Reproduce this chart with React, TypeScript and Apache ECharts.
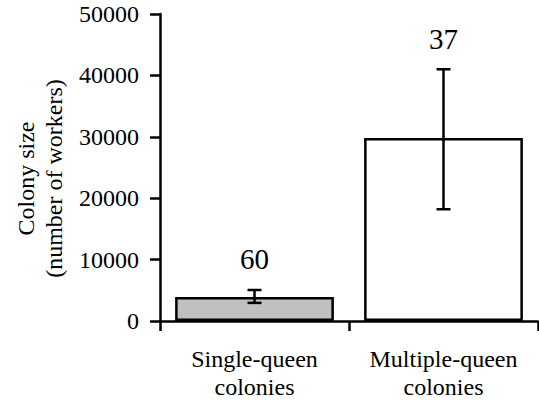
import React, { useEffect, useRef } from "react";
import * as echarts from "echarts";

const categories = ["Single-queen\ncolonies", "Multiple-queen\ncolonies"];
const means = [3900, 29800];
const errLow = [2950, 18200];
const errHigh = [5050, 41000];
const sampleSizes = ["60", "37"];
const barFills = ["#c0c0c0", "#ffffff"];
const yMin = 0;
const yMax = 50000;
const yInterval = 10000;

const FONT = "Liberation Serif";

export default function App() {
  const ref = useRef<HTMLDivElement>(null);
  useEffect(() => {
    if (!ref.current) return;
    const chart = echarts.init(ref.current, undefined, { renderer: "svg" });
    chart.setOption({
      animation: false,
      backgroundColor: "#ffffff",
      grid: { left: 160, right: 1, top: 14, bottom: 84, containLabel: false, outerBoundsMode: "none" },
      xAxis: {
        type: "category",
        data: categories,
        axisLine: { show: true, lineStyle: { color: "#000", width: 2.5 } },
        axisTick: { show: true, length: 10, lineStyle: { color: "#000", width: 2.5 } },
        axisLabel: {
          interval: 0,
          hideOverlap: false,
          color: "#000",
          fontFamily: FONT,
          fontSize: 24,
          lineHeight: 28,
          margin: 24,
        },
      },
      yAxis: {
        type: "value",
        min: yMin,
        max: yMax,
        interval: yInterval,
        name: "Colony size\n(number of workers)",
        nameLocation: "middle",
        nameRotate: 90,
        nameGap: 92,
        nameTextStyle: {
          color: "#000",
          fontFamily: FONT,
          fontSize: 24,
          lineHeight: 28,
          padding: [0, 22, 0, 0],
        },
        splitLine: { show: false },
        axisLine: { show: true, lineStyle: { color: "#000", width: 2.5 } },
        axisTick: { show: true, length: 10, lineStyle: { color: "#000", width: 2.5 } },
        axisLabel: {
          color: "#000",
          fontFamily: FONT,
          fontSize: 24,
          margin: 21,
          formatter: (v: number) => String(v),
        },
      },
      series: [
        {
          type: "bar",
          barWidth: "84%",
          data: means.map((v, i) => ({
            value: v,
            itemStyle: { color: barFills[i], borderColor: "#000", borderWidth: 2.5 },
          })),
        },
        {
          type: "custom",
          z: 5,
          data: categories.map((_, i) => [i, errLow[i], errHigh[i]]),
          renderItem: (params: any, api: any) => {
            const x = api.value(0);
            const lo = api.coord([x, api.value(1)]);
            const hi = api.coord([x, api.value(2)]);
            const half = 7;
            const st = { stroke: "#000", lineWidth: 2.5 };
            return {
              type: "group",
              children: [
                { type: "line", shape: { x1: lo[0], y1: lo[1], x2: hi[0], y2: hi[1] }, style: st },
                { type: "line", shape: { x1: hi[0] - half, y1: hi[1], x2: hi[0] + half, y2: hi[1] }, style: st },
                { type: "line", shape: { x1: lo[0] - half, y1: lo[1], x2: lo[0] + half, y2: lo[1] }, style: st },
                {
                  type: "text",
                  x: hi[0],
                  y: hi[1] - 16,
                  style: {
                    text: sampleSizes[params.dataIndex],
                    fontFamily: FONT,
                    fontSize: 29,
                    fill: "#000",
                    align: "center",
                    verticalAlign: "bottom",
                  },
                },
              ],
            };
          },
        },
      ],
    });
    return () => chart.dispose();
  }, []);
  return (
    <div
      ref={ref}
      style={{ position: "fixed", left: 0, top: 0, width: 539, height: 405, background: "#fff" }}
    />
  );
}
